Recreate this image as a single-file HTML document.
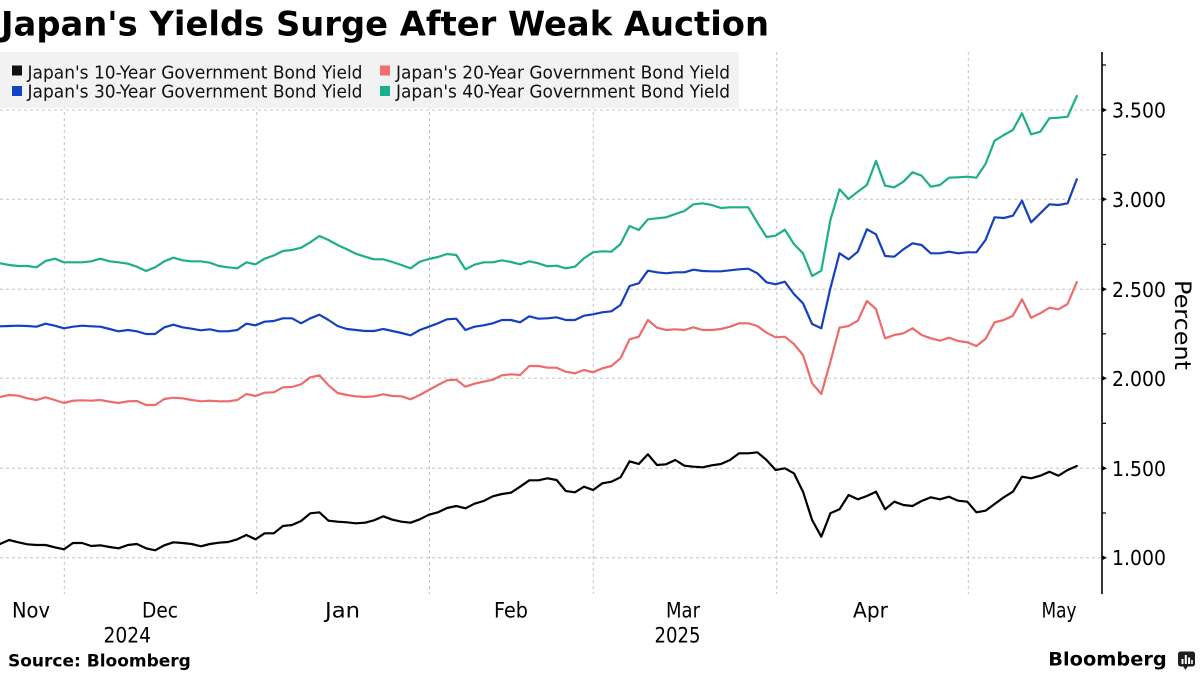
<!DOCTYPE html>
<html>
<head>
<meta charset="utf-8">
<style>
  html, body { margin:0; padding:0; background:#ffffff; }
  body { width:1200px; height:675px; overflow:hidden; }
  svg { display:block; }
  text { font-family: "DejaVu Sans", "Liberation Sans", sans-serif; }
</style>
</head>
<body>
<svg width="1200" height="675" viewBox="0 0 1200 675" xmlns="http://www.w3.org/2000/svg">
  <rect x="0" y="0" width="1200" height="675" fill="#ffffff"/>

  <!-- Title -->
  <text x="1" y="35.5" font-size="33.5" font-weight="bold" fill="#000" textLength="768" lengthAdjust="spacingAndGlyphs">Japan's Yields Surge After Weak Auction</text>

  <!-- Gridlines -->
  <g stroke="#c4c4c4" stroke-width="1" stroke-dasharray="3,3" fill="none">
    <line x1="0" y1="110" x2="1102" y2="110"/>
    <line x1="0" y1="199.3" x2="1102" y2="199.3"/>
    <line x1="0" y1="289.3" x2="1102" y2="289.3"/>
    <line x1="0" y1="378.3" x2="1102" y2="378.3"/>
    <line x1="0" y1="468.3" x2="1102" y2="468.3"/>
    <line x1="0" y1="557.7" x2="1102" y2="557.7"/>
    <line x1="64.3" y1="52" x2="64.3" y2="594"/>
    <line x1="256.7" y1="52" x2="256.7" y2="594"/>
    <line x1="429.5" y1="52" x2="429.5" y2="594"/>
    <line x1="593.3" y1="52" x2="593.3" y2="594"/>
    <line x1="776.7" y1="52" x2="776.7" y2="594"/>
    <line x1="968.3" y1="52" x2="968.3" y2="594"/>
  </g>

  <!-- Legend -->
  <rect x="0" y="52" width="739" height="56" fill="#f0f0f0" fill-opacity="0.88"/>
  <rect x="12" y="65.5" width="10" height="10" fill="#111111"/>
  <text x="27.5" y="78.3" font-size="17.5" fill="#111" textLength="335" lengthAdjust="spacingAndGlyphs">Japan's 10-Year Government Bond Yield</text>
  <rect x="12" y="86" width="10" height="10" fill="#1442c4"/>
  <text x="27.5" y="97.5" font-size="17.5" fill="#111" textLength="335" lengthAdjust="spacingAndGlyphs">Japan's 30-Year Government Bond Yield</text>
  <rect x="380" y="65.5" width="10" height="10" fill="#f26d6d"/>
  <text x="396" y="78.3" font-size="17.5" fill="#111" textLength="334" lengthAdjust="spacingAndGlyphs">Japan's 20-Year Government Bond Yield</text>
  <rect x="380" y="86" width="10" height="10" fill="#18b08a"/>
  <text x="396" y="97.5" font-size="17.5" fill="#111" textLength="334" lengthAdjust="spacingAndGlyphs">Japan's 40-Year Government Bond Yield</text>

  <!-- Series -->
  <g fill="none" stroke-width="2.2" stroke-linejoin="round" stroke-linecap="round">
    <polyline stroke="#000000" points="0,544 9.1,540 18.3,542.3 27.4,544.3 36.5,545 45.6,545 54.8,547.3 63.9,549.3 73,543 82.1,543 91.3,546 100.4,545.3 109.5,547 118.6,548.3 127.8,545 136.9,544 146,548.3 155.1,550.3 164.3,545.3 173.4,542.3 182.5,543 191.6,544 200.8,546.3 209.9,544 219,542.7 228.1,542 237.3,539.3 246.4,535 255.5,539.3 264.6,533.3 273.8,533.3 282.9,526 292,525 301.1,521 310.3,513.3 319.4,512.3 328.5,520.7 337.6,521.7 346.8,522.3 355.9,523.3 365,522.7 374.1,520.3 383.3,516.3 392.4,519.7 401.5,521.7 410.6,522.7 419.8,519.3 428.9,514.7 438,512.3 447.1,508 456.3,506 465.4,508.3 474.5,503.7 483.6,501 492.8,496.3 501.9,494 511,492.7 520.1,486.7 529.3,480.3 538.4,480.3 547.5,478.3 556.6,480 565.8,491 574.9,492.3 584,486.7 593.1,490 602.3,483.3 611.4,481.7 620.5,477.3 629.6,461.3 638.8,464 647.9,454.3 657,465 666.1,464.3 675.3,460 684.4,465.7 693.5,466.7 702.6,467.3 711.8,465.3 720.9,464 730,460 739.1,453.3 748.3,453.3 757.4,452.3 766.5,460 775.6,470 784.8,468.3 793.9,473.3 803,491.7 812.1,520 821.3,536.7 830.4,513.3 839.5,509.3 848.6,495 857.8,499.3 866.9,496 876,491.7 885.1,509.3 894.3,501.7 903.4,505 912.5,506 921.6,501 930.8,497.3 939.9,499.3 949,496.7 958.1,500.7 967.3,501.7 976.4,512.3 985.5,510.7 994.6,504 1003.8,497.3 1012.9,491.7 1022,476.7 1031.1,478.3 1040.3,475.7 1049.4,471.7 1058.5,475.7 1067.6,470 1076.8,466"/>
    <polyline stroke="#ee6b6b" points="0,397 9.1,395 18.3,395.7 27.4,398.3 36.5,400 45.6,397.3 54.8,400 63.9,403 73,400.7 82.1,400.3 91.3,400.7 100.4,400 109.5,401.7 118.6,403 127.8,401.3 136.9,401 146,405 155.1,405 164.3,399 173.4,397.7 182.5,398.3 191.6,400 200.8,401.3 209.9,400.7 219,401.3 228.1,401.3 237.3,400 246.4,394 255.5,396 264.6,392.7 273.8,392.3 282.9,387.3 292,387 301.1,384.3 310.3,377.3 319.4,375.3 328.5,385.3 337.6,393 346.8,395 355.9,396.3 365,397 374.1,396.3 383.3,394.3 392.4,396 401.5,396.3 410.6,399.3 419.8,395 428.9,390 438,385 447.1,380.3 456.3,379.7 465.4,386.7 474.5,383.7 483.6,381.7 492.8,379.7 501.9,375.3 511,374.3 520.1,375 529.3,366 538.4,366 547.5,367.7 556.6,367.7 565.8,371.7 574.9,373.3 584,370 593.1,372.3 602.3,368.3 611.4,366 620.5,358.3 629.6,339.3 638.8,336.7 647.9,320 657,327.7 666.1,330 675.3,329.3 684.4,330 693.5,327.3 702.6,330 711.8,330 720.9,329 730,326.7 739.1,323.3 748.3,323.3 757.4,326 766.5,332.7 775.6,337.3 784.8,336.7 793.9,344 803,355 812.1,383.3 821.3,394 830.4,361.7 839.5,327.7 848.6,326 857.8,320.7 866.9,301 876,309 885.1,338.3 894.3,335 903.4,333.3 912.5,328.3 921.6,335 930.8,338.3 939.9,340.7 949,337.7 958.1,341 967.3,342.3 976.4,346 985.5,339 994.6,322.3 1003.8,320 1012.9,315.7 1022,299.3 1031.1,317.7 1040.3,313.3 1049.4,307.7 1058.5,309.3 1067.6,304 1076.8,282"/>
    <polyline stroke="#1540c0" points="0,326.3 9.1,326 18.3,325.7 27.4,326 36.5,326.7 45.6,323.7 54.8,325.7 63.9,328.3 73,326.7 82.1,325.7 91.3,326.3 100.4,326.7 109.5,329 118.6,331.3 127.8,330 136.9,331.3 146,334 155.1,334 164.3,327.3 173.4,324.7 182.5,327.3 191.6,328.7 200.8,330.3 209.9,329.3 219,331.3 228.1,331.3 237.3,330 246.4,323.7 255.5,325.3 264.6,321.7 273.8,321 282.9,318.3 292,318.3 301.1,323.3 310.3,318.3 319.4,314.7 328.5,320 337.6,326 346.8,329 355.9,330 365,331 374.1,331 383.3,329 392.4,331 401.5,333 410.6,335.3 419.8,330 428.9,326.7 438,323.3 447.1,319.3 456.3,318.7 465.4,330 474.5,326.7 483.6,325.3 492.8,323.3 501.9,320 511,320 520.1,322.3 529.3,316.3 538.4,318.7 547.5,318.3 556.6,317.3 565.8,320 574.9,320 584,315.7 593.1,314.3 602.3,312.3 611.4,311.3 620.5,305 629.6,286 638.8,283.3 647.9,270.7 657,272.3 666.1,273.3 675.3,272.3 684.4,272.3 693.5,269.7 702.6,271 711.8,271.3 720.9,271.3 730,270.3 739.1,269.3 748.3,268.7 757.4,273.3 766.5,282.3 775.6,284.3 784.8,281.7 793.9,294 803,303.3 812.1,324 821.3,328.3 830.4,288.3 839.5,253.3 848.6,259.3 857.8,251.7 866.9,229.3 876,234.3 885.1,256 894.3,256.7 903.4,249.3 912.5,243.3 921.6,245 930.8,253.3 939.9,253.3 949,251.7 958.1,253.3 967.3,252.3 976.4,252.3 985.5,240 994.6,217.3 1003.8,218 1012.9,215.7 1022,200.7 1031.1,222.3 1040.3,213.3 1049.4,204.3 1058.5,205 1067.6,203.3 1076.8,179.3"/>
    <polyline stroke="#1dae8a" points="0,263.3 9.1,265 18.3,266 27.4,266 36.5,267.3 45.6,261 54.8,258.7 63.9,262.3 73,262.3 82.1,262.3 91.3,261.3 100.4,258.7 109.5,261.3 118.6,262.3 127.8,263.7 136.9,266.7 146,271 155.1,267.3 164.3,261.3 173.4,257.7 182.5,260.3 191.6,261.3 200.8,261.3 209.9,262.7 219,266 228.1,267.3 237.3,268.3 246.4,262.3 255.5,264.3 264.6,258.7 273.8,255.5 282.9,251 292,250 301.1,247.7 310.3,242.3 319.4,236 328.5,240 337.6,245 346.8,249.3 355.9,253.7 365,256.7 374.1,259.3 383.3,259.3 392.4,262 401.5,265 410.6,268.3 419.8,261.7 428.9,259 438,257 447.1,254 456.3,255 465.4,269.3 474.5,264.7 483.6,262.3 492.8,262.3 501.9,260.3 511,262 520.1,264.3 529.3,261.3 538.4,263.3 547.5,266.3 556.6,265.7 565.8,268.3 574.9,266.7 584,258.3 593.1,252.3 602.3,251.3 611.4,251.7 620.5,244 629.6,226 638.8,230 647.9,219.3 657,218.3 666.1,217.3 675.3,214 684.4,211 693.5,204.3 702.6,203.3 711.8,205 720.9,208 730,207.3 739.1,207.3 748.3,207.3 757.4,222.7 766.5,237 775.6,235.7 784.8,229.7 793.9,244 803,253.3 812.1,276 821.3,270.7 830.4,220 839.5,189.3 848.6,199 857.8,191.7 866.9,185 876,161 885.1,185.7 894.3,187.3 903.4,181.7 912.5,172.3 921.6,175.7 930.8,186.7 939.9,185 949,177.7 958.1,177.3 967.3,176.7 976.4,177.7 985.5,164 994.6,140.7 1003.8,135 1012.9,130 1022,113.3 1031.1,134.3 1040.3,131.7 1049.4,118.3 1058.5,117.7 1067.6,116.7 1076.8,96"/>
  </g>

  <!-- Right axis -->
  <line x1="1102" y1="52" x2="1102" y2="594" stroke="#000" stroke-width="1.6"/>
  <g stroke="#000" stroke-width="1.2">
    <line x1="1102" y1="65" x2="1106" y2="65"/>
    <line x1="1102" y1="154.7" x2="1106" y2="154.7"/>
    <line x1="1102" y1="244.3" x2="1106" y2="244.3"/>
    <line x1="1102" y1="333.8" x2="1106" y2="333.8"/>
    <line x1="1102" y1="423.3" x2="1106" y2="423.3"/>
    <line x1="1102" y1="513" x2="1106" y2="513"/>
  </g>
  <g fill="#000">
    <polygon points="1102,107.5 1107,110 1102,112.5"/>
    <polygon points="1102,196.8 1107,199.3 1102,201.8"/>
    <polygon points="1102,286.8 1107,289.3 1102,291.8"/>
    <polygon points="1102,375.8 1107,378.3 1102,380.8"/>
    <polygon points="1102,465.8 1107,468.3 1102,470.8"/>
    <polygon points="1102,555.2 1107,557.7 1102,560.2"/>
  </g>
  <g font-size="20.5" fill="#000">
    <text x="1112" y="117.5" textLength="54" lengthAdjust="spacingAndGlyphs">3.500</text>
    <text x="1112" y="206.8" textLength="54" lengthAdjust="spacingAndGlyphs">3.000</text>
    <text x="1112" y="296.8" textLength="54" lengthAdjust="spacingAndGlyphs">2.500</text>
    <text x="1112" y="385.8" textLength="54" lengthAdjust="spacingAndGlyphs">2.000</text>
    <text x="1112" y="475.8" textLength="54" lengthAdjust="spacingAndGlyphs">1.500</text>
    <text x="1112" y="565.2" textLength="54" lengthAdjust="spacingAndGlyphs">1.000</text>
  </g>
  <text x="1175" y="325" font-size="22" fill="#000" text-anchor="middle" transform="rotate(90 1175 325)" textLength="90" lengthAdjust="spacingAndGlyphs">Percent</text>

  <!-- X axis labels -->
  <g font-size="21" fill="#000">
    <text x="12" y="617.3" textLength="38" lengthAdjust="spacingAndGlyphs">Nov</text>
    <text x="142" y="617.3" textLength="36" lengthAdjust="spacingAndGlyphs">Dec</text>
    <text x="325" y="617.3" textLength="35" lengthAdjust="spacingAndGlyphs">Jan</text>
    <text x="494" y="617.3" textLength="34" lengthAdjust="spacingAndGlyphs">Feb</text>
    <text x="666" y="617.3" textLength="34" lengthAdjust="spacingAndGlyphs">Mar</text>
    <text x="853" y="617.3" textLength="35" lengthAdjust="spacingAndGlyphs">Apr</text>
    <text x="1041.5" y="617.3" textLength="35" lengthAdjust="spacingAndGlyphs">May</text>
    <text x="103.5" y="642.5" textLength="47.5" lengthAdjust="spacingAndGlyphs">2024</text>
    <text x="654.5" y="642.5" textLength="46" lengthAdjust="spacingAndGlyphs">2025</text>
  </g>

  <!-- Footer -->
  <text x="8" y="666.5" font-size="17" font-weight="bold" fill="#000">Source: Bloomberg</text>
  <text x="1048.3" y="665.7" font-size="19" font-weight="bold" fill="#000" textLength="118.4" lengthAdjust="spacingAndGlyphs">Bloomberg</text>
  <g>
    <rect x="1178" y="651.5" width="17" height="15" rx="2.5" fill="#1f1f1f"/>
    <polygon points="1183,666 1188,666 1185.5,670" fill="#1f1f1f"/>
    <rect x="1181.5" y="659" width="2" height="5" fill="#fff"/>
    <rect x="1184.8" y="655" width="2" height="9" fill="#fff"/>
    <rect x="1188.1" y="657.5" width="2" height="6.5" fill="#fff"/>
    <rect x="1191.2" y="660" width="1.6" height="4" fill="#fff"/>
  </g>
</svg>
</body>
</html>
